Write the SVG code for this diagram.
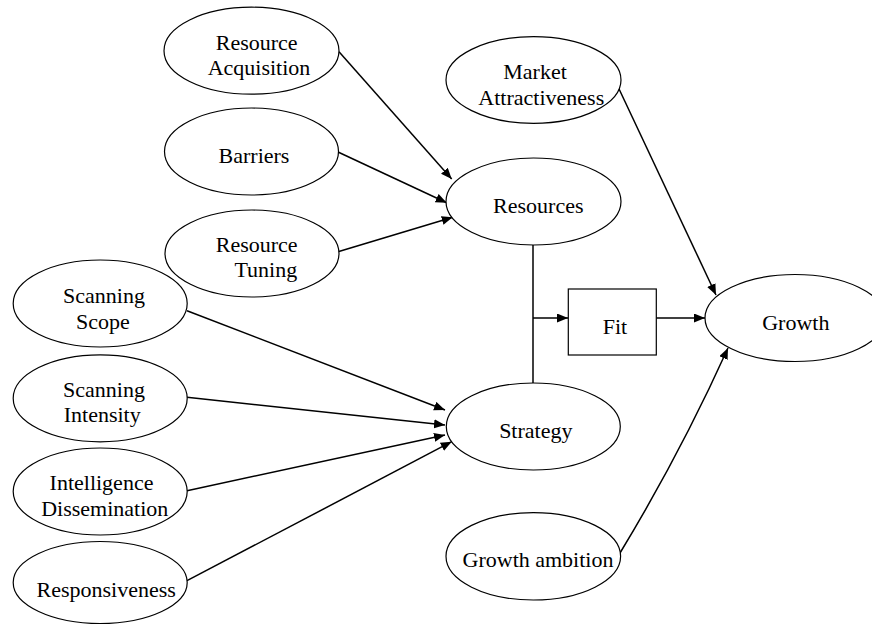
<svg xmlns="http://www.w3.org/2000/svg" width="872" height="625" viewBox="0 0 872 625">
<style>
.n ellipse, .n rect { fill: #fff; stroke: #000; stroke-width: 1.2; }
.n text { font-family: "Liberation Serif", "Times New Roman", serif; font-size: 22px; fill: #000; text-anchor: middle; }
.c path { fill: none; stroke: #000; stroke-width: 1.5; }
</style>
<defs>
<marker id="ah" markerUnits="userSpaceOnUse" markerWidth="12" markerHeight="10" refX="11" refY="4.5" orient="auto">
<path d="M0,0 L11,4.5 L0,9 z" fill="#000"/>
</marker>
</defs>
<rect width="872" height="625" fill="#fff"/>
<g class="c">
<path d="M339,51.7 L451.7,179" marker-end="url(#ah)"/>
<path d="M338,152 L446.7,202.7" marker-end="url(#ah)"/>
<path d="M338,251.7 L452.7,217.3" marker-end="url(#ah)"/>
<path d="M618,86.7 L716,295" marker-end="url(#ah)"/>
<path d="M533,245 L533,383"/>
<path d="M533,318 L568,318" marker-end="url(#ah)"/>
<path d="M656,318 L705,318" marker-end="url(#ah)"/>
<path d="M620,553 Q680.2,453.8 728,348" marker-end="url(#ah)"/>
<path d="M187,310.7 L445,410" marker-end="url(#ah)"/>
<path d="M187,397.3 L445,425" marker-end="url(#ah)"/>
<path d="M187,490.7 L445,435" marker-end="url(#ah)"/>
<path d="M187,580.7 L451.7,441.7" marker-end="url(#ah)"/>
</g>
<g id="resource-acquisition" class="n"><ellipse cx="251.5" cy="50.7" rx="87.5" ry="43.5"/><text x="256.7" y="50">Resource</text><text x="259" y="75">Acquisition</text></g>
<g id="barriers" class="n"><ellipse cx="251.5" cy="151.5" rx="87" ry="43.5"/><text x="254" y="163.3">Barriers</text></g>
<g id="resource-tuning" class="n"><ellipse cx="252" cy="253.5" rx="87" ry="43.5"/><text x="256.7" y="251.7">Resource</text><text x="265.8" y="276.7">Tuning</text></g>
<g id="market-attractiveness" class="n"><ellipse cx="533.5" cy="80" rx="87.5" ry="43.3"/><text x="535" y="79.3">Market</text><text x="541.3" y="105">Attractiveness</text></g>
<g id="resources" class="n"><ellipse cx="533.5" cy="201.5" rx="87.5" ry="43.5"/><text x="538.3" y="213.3">Resources</text></g>
<g id="fit" class="n"><rect x="568.3" y="289" width="88" height="66"/><text x="615" y="334">Fit</text></g>
<g id="growth" class="n"><ellipse cx="795" cy="318" rx="90" ry="43.5"/><text x="795.8" y="330">Growth</text></g>
<g id="strategy" class="n"><ellipse cx="533.3" cy="426.5" rx="87" ry="43.5"/><text x="535.8" y="438.3">Strategy</text></g>
<g id="growth-ambition" class="n"><ellipse cx="533.3" cy="556.3" rx="87.3" ry="43.7"/><text x="538" y="566.7">Growth ambition</text></g>
<g id="scanning-scope" class="n"><ellipse cx="100.2" cy="303.5" rx="87" ry="43.5"/><text x="104" y="302.7">Scanning</text><text x="103" y="329.3">Scope</text></g>
<g id="scanning-intensity" class="n"><ellipse cx="100.2" cy="398.3" rx="87" ry="43.5"/><text x="104" y="396.7">Scanning</text><text x="102.2" y="421.7">Intensity</text></g>
<g id="intelligence-dissemination" class="n"><ellipse cx="100.2" cy="491.5" rx="87" ry="43.5"/><text x="101.5" y="490">Intelligence</text><text x="104.7" y="516">Dissemination</text></g>
<g id="responsiveness" class="n"><ellipse cx="100.2" cy="582.5" rx="87" ry="41"/><text x="106.2" y="596.7">Responsiveness</text></g>
</svg>
